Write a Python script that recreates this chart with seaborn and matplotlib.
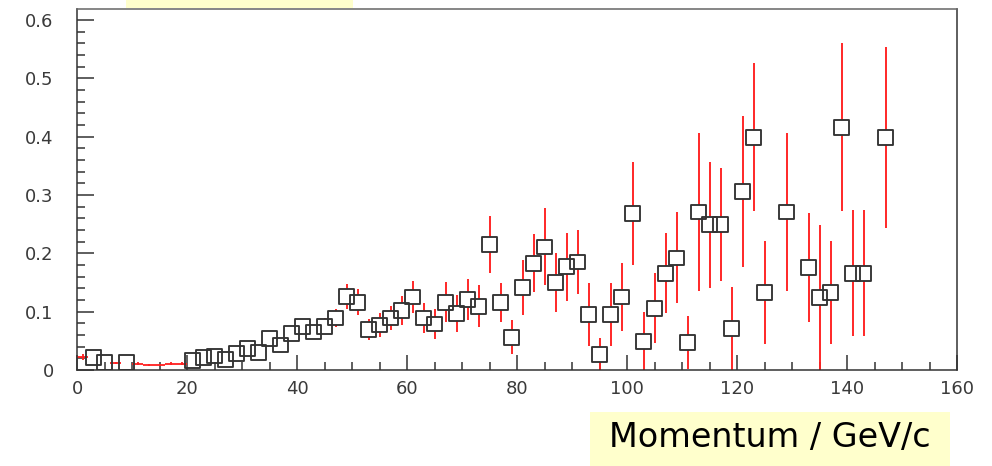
import numpy as np
import pandas as pd
import matplotlib
matplotlib.use("Agg")
import matplotlib.pyplot as plt
from matplotlib.patches import Rectangle
from matplotlib.ticker import MultipleLocator, FixedLocator
import seaborn as sns

# Momentum bins (bin centres, GeV/c) with a measured ratio, drawn with open squares
momentum = [3, 5, 9, 21, 23, 25, 27, 29, 31, 33, 35, 37, 39, 41, 43, 45, 47, 49,
            51, 53, 55, 57, 59, 61, 63, 65, 67, 69, 71, 73, 75, 77, 79, 81, 83,
            85, 87, 89, 91, 93, 95, 97, 99, 101, 103, 105, 107, 109, 111, 113,
            115, 117, 119, 121, 123, 125, 129, 133, 135, 137, 139, 141, 143, 147]
ratio = [0.021, 0.0125, 0.0125, 0.016, 0.021, 0.024, 0.018, 0.028, 0.037, 0.030,
         0.054, 0.043, 0.063, 0.075, 0.065, 0.075, 0.089, 0.126, 0.116, 0.069,
         0.077, 0.089, 0.102, 0.125, 0.089, 0.079, 0.116, 0.097, 0.121, 0.109,
         0.215, 0.116, 0.056, 0.141, 0.183, 0.211, 0.150, 0.177, 0.185, 0.095,
         0.027, 0.095, 0.125, 0.268, 0.049, 0.106, 0.166, 0.192, 0.047, 0.271,
         0.249, 0.249, 0.071, 0.306, 0.399, 0.133, 0.271, 0.176, 0.124, 0.133,
         0.416, 0.166, 0.166, 0.399]
ratio_err = [0.004, 0.003, 0.003, 0.003, 0.004, 0.005, 0.004, 0.005, 0.006, 0.006,
             0.008, 0.008, 0.009, 0.010, 0.010, 0.014, 0.016, 0.021, 0.022, 0.018,
             0.020, 0.021, 0.025, 0.028, 0.025, 0.026, 0.034, 0.032, 0.035, 0.036,
             0.049, 0.033, 0.029, 0.047, 0.050, 0.066, 0.050, 0.058, 0.055, 0.054,
             0.027, 0.054, 0.059, 0.088, 0.050, 0.060, 0.068, 0.078, 0.046, 0.135,
             0.108, 0.097, 0.071, 0.130, 0.127, 0.088, 0.135, 0.093, 0.124, 0.088,
             0.144, 0.108, 0.108, 0.155]

# Low-momentum bins shown only as error crosses
low_momentum = [1, 7, 11, 13, 15, 17, 19]
low_ratio = [0.022, 0.0115, 0.011, 0.008, 0.009, 0.011, 0.011]
low_ratio_err = [0.005, 0.002, 0.002, 0.002, 0.002, 0.002, 0.002]
bin_half_width = 1.0

x_major = [0, 20, 40, 60, 80, 100, 120, 140, 160]
x_labels = ["0", "20", "40", "60", "80", "100", "120", "140", "160"]
y_major = [0, 0.1, 0.2, 0.3, 0.4, 0.5, 0.6]
y_labels = ["0", "0.1", "0.2", "0.3", "0.4", "0.5", "0.6"]
axis_title = "Momentum / GeV/c"

points = pd.DataFrame({"p": momentum, "r": ratio, "err": ratio_err})

sns.set_theme(style="white")
plt.rcParams["font.family"] = ["DejaVu Sans"]

W, H, DPI = 992, 466, 100
fig = plt.figure(figsize=(W / DPI, H / DPI), dpi=DPI)
left, right, bottom, top = 77.3, 957.0, 370.0, 8.5
ax = fig.add_axes([left / W, (H - bottom) / H, (right - left) / W, (bottom - top) / H])
ax.set_xlim(0, 160)
ax.set_ylim(0, 0.6197)

frame_color = "#333333"
err_color = "#ff1f1f"
marker_side_pt = 10.6

# Error bars stop at the edge of the square marker
ax_h_px = bottom - top
gap = (marker_side_pt * DPI / 72 / 2) * (0.6197 / ax_h_px)
up_lo, up_hi, dn_lo, dn_hi, up_x, dn_x = [], [], [], [], [], []
for p, r, e in zip(points["p"], points["r"], points["err"]):
    if e > gap:
        up_x.append(p); up_lo.append(r + gap); up_hi.append(r + e)
        dn_x.append(p); dn_lo.append(max(r - e, 0)); dn_hi.append(r - gap)
ax.vlines(up_x, up_lo, up_hi, color=err_color, lw=1.35, zorder=2)
ax.vlines(dn_x, dn_lo, dn_hi, color=err_color, lw=1.35, zorder=2)

ax.errorbar(low_momentum, low_ratio, xerr=bin_half_width, yerr=low_ratio_err,
            fmt="none", ecolor=err_color, elinewidth=1.3, capsize=0, zorder=2)

sns.scatterplot(data=points, x="p", y="r", marker="s", s=marker_side_pt ** 2,
                color="white", edgecolor=frame_color, linewidth=1.35, ax=ax,
                zorder=3, legend=False)
ax.collections[-1].set_facecolor("none")

ax.set_xlabel("")
ax.set_ylabel("")

ax.xaxis.set_major_locator(FixedLocator(x_major))
ax.xaxis.set_minor_locator(MultipleLocator(5))
ax.yaxis.set_major_locator(FixedLocator(y_major))
ax.yaxis.set_minor_locator(MultipleLocator(0.02))
ax.set_xticklabels(x_labels)
ax.set_yticklabels(y_labels)

ax.tick_params(axis="x", which="major", direction="in", length=10.8, width=1.1,
               color=frame_color, labelsize=13, labelcolor="#3a3a3a", pad=7,
               bottom=True, top=False)
ax.tick_params(axis="x", which="minor", direction="in", length=5.6, width=1.1,
               color=frame_color, bottom=True, top=False)
ax.tick_params(axis="y", which="major", direction="in", length=12, width=1.1,
               color=frame_color, labelsize=13, labelcolor="#3a3a3a", pad=17,
               left=True, right=False)
ax.tick_params(axis="y", which="minor", direction="in", length=5.8, width=1.1,
               color=frame_color, left=True, right=False)

for side in ["left", "bottom", "right", "top"]:
    ax.spines[side].set_visible(True)
    ax.spines[side].set_color(frame_color)
    ax.spines[side].set_linewidth(1.1)
ax.spines["top"].set_color("#666666")
ax.grid(False)

# Yellow label boxes
fig.patches.append(Rectangle((126 / W, (H - 8.3) / H), 226.7 / W, 8.3 / H,
                             transform=fig.transFigure, facecolor="#ffffcc",
                             edgecolor="none", zorder=-1))
fig.patches.append(Rectangle((590 / W, 0), 360 / W, 54 / H,
                             transform=fig.transFigure, facecolor="#ffffcc",
                             edgecolor="none", zorder=1))
fig.text(769.5 / W, (H - 446.7) / H, axis_title, ha="center", va="baseline",
         fontsize=24, color="black", zorder=2)

fig.savefig("out.png", dpi=DPI)
